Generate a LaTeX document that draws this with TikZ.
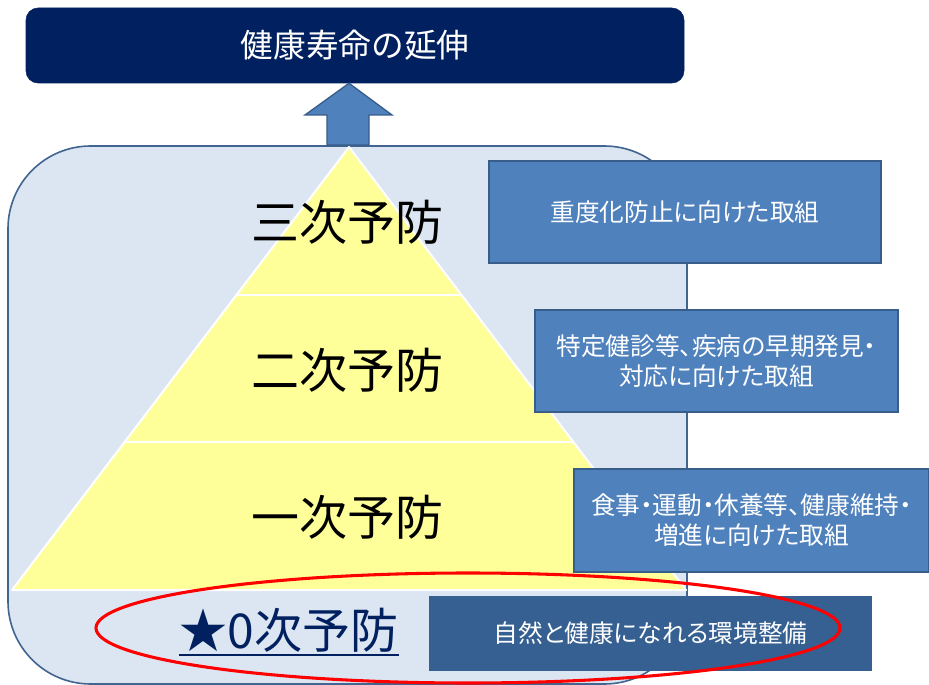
\documentclass[tikz,border=0pt]{standalone}
\usepackage{fontspec}
\setmainfont{Noto Sans CJK JP}
\newfontfamily\pfont{Noto Sans CJK JP}[RawFeature=+palt]
\definecolor{navy}{RGB}{0,32,96}
\definecolor{paleblue}{RGB}{220,230,242}
\definecolor{rectline}{RGB}{65,100,145}
\definecolor{boxfill}{RGB}{79,129,189}
\definecolor{boxline}{RGB}{56,93,138}
\definecolor{darkbox}{RGB}{54,96,146}
\definecolor{pyr}{RGB}{255,255,153}
\begin{document}
\begin{tikzpicture}[x=0.75pt,y=-0.75pt,
  bluebox/.style={draw=boxline, fill=boxfill, line width=1.5pt, text=white, align=center,
    font=\pfont\fontsize{18.5pt}{22.5pt}\selectfont, inner sep=0pt},
  tiertext/.style={font=\fontsize{36pt}{40pt}\selectfont, text=black, inner sep=0pt},
]
\useasboundingbox (0,0) rectangle (929,685);
% big rounded background
\draw[draw=rectline, fill=paleblue, line width=1.2pt, rounded corners=62pt] (8,146) rectangle (687,684);
% pyramid
\coordinate (apex) at (349,147);
\coordinate (bl) at (12,590);
\coordinate (br) at (686,590);
\fill[pyr] (apex) -- (br) -- (bl) -- cycle;
\draw[white, line width=1.5pt, line join=round] (apex) -- (br) -- (bl) -- cycle;
\draw[white, line width=1.5pt] (236.4,295) -- (461.6,295);
\draw[white, line width=1.5pt] (124.6,442) -- (573.4,442);
% tier labels
\node[tiertext] (t3) at (347,222) {三次予防};
\node[tiertext] (t2) at (347,370) {二次予防};
\node[tiertext] (t1) at (347,517) {一次予防};
% goal box
\node[draw=navy, fill=navy, rounded corners=9pt, minimum width=493.5pt, minimum height=56.25pt,
      text=white, font=\fontsize{24.5pt}{28pt}\selectfont, inner sep=0pt] (goal) at (355,45.5) {健康寿命の延伸};
% block arrow
\draw[draw=boxline, fill=boxfill, line width=1pt, line join=miter]
  (327,145) -- (327,115) -- (305,115) -- (goal.south -| apex) -- (392,115) -- (369,115) -- (369,145) -- cycle;
% right boxes
\node[bluebox, minimum width=294pt, minimum height=76.5pt] (b1) at (685,212) {重度化防止に向けた取組};
\node[bluebox, minimum width=272.25pt, minimum height=76.5pt] (b2) at (716.5,361) {特定健診等、疾病の早期発見・\\対応に向けた取組};
\node[bluebox, minimum width=266.25pt, minimum height=77.25pt] (b3) at (751.5,520.5) {食事・運動・休養等、健康維持・\\増進に向けた取組};
\node[bluebox, draw=darkbox, fill=darkbox, minimum width=330.75pt, minimum height=54.75pt] (b4) at (650.5,633.5) {自然と健康になれる環境整備};
% zero prevention
\node[tiertext, text=navy] (t0) at (289,630) {★0次予防};
\draw[navy, line width=1.6pt] ([yshift=-5pt]t0.base west) -- ([yshift=-5pt]t0.base east);
% red ellipse
\draw[red, line width=2.3pt] (468,628) ellipse [x radius=372, y radius=55];
\end{tikzpicture}
\end{document}
